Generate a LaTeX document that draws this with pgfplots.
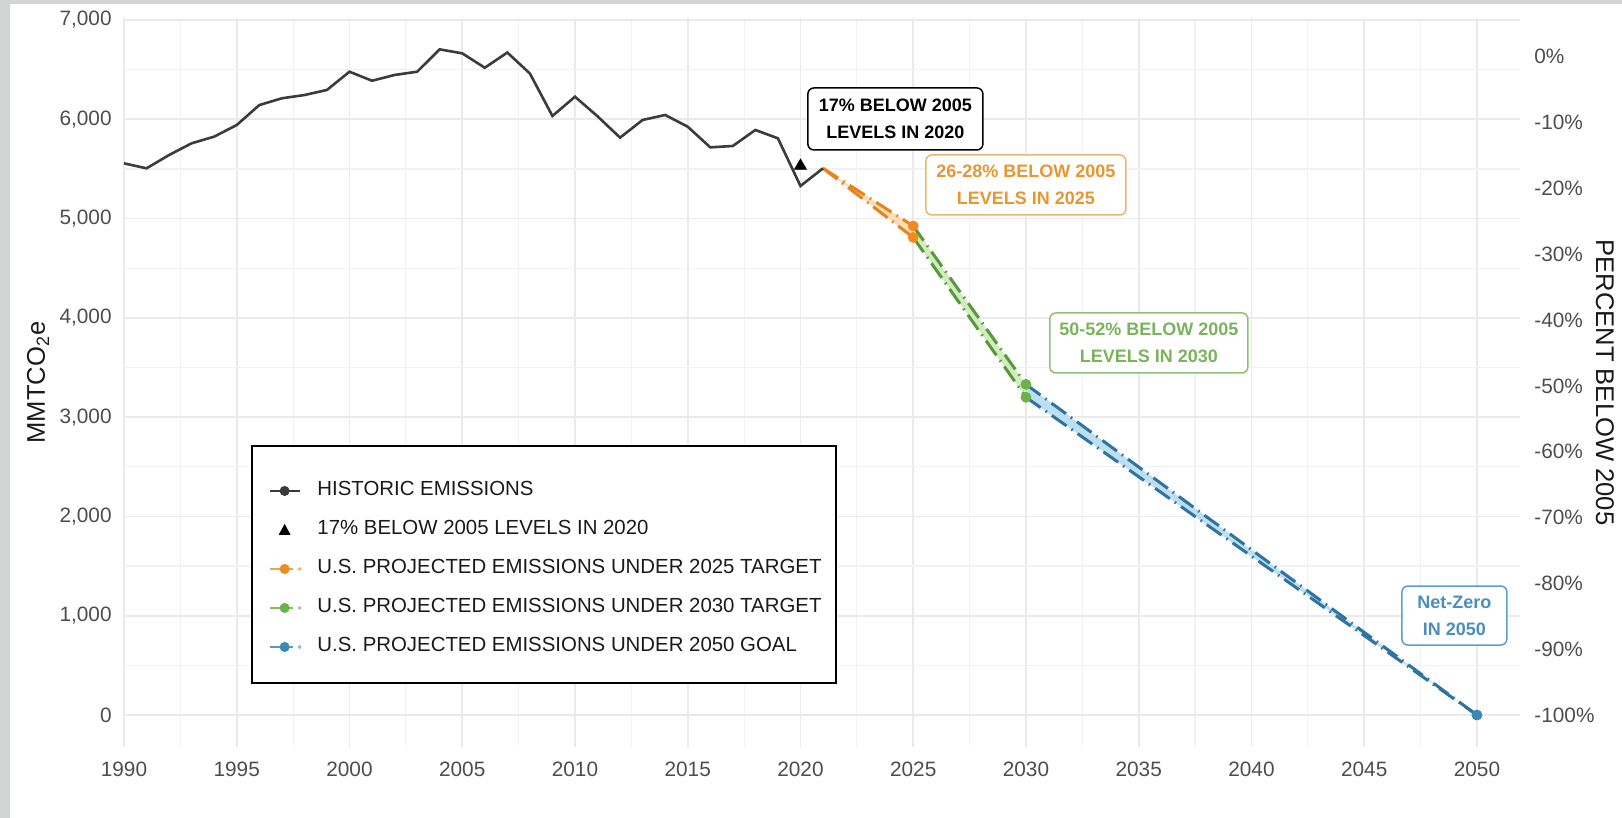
\documentclass[border=0pt]{standalone}
\usepackage{pgfplots}
\pgfplotsset{compat=1.18}
\usepackage{fontspec}
\setmainfont{Liberation Sans}

\definecolor{bgframe}{HTML}{D3D5D5}
\definecolor{gridmaj}{HTML}{EAEAEA}
\definecolor{gridmin}{HTML}{F2F2F2}
\definecolor{tickgray}{HTML}{4D4D4D}
\definecolor{titleblack}{HTML}{1A1A1A}
\definecolor{histline}{HTML}{3B3B3B}
\definecolor{orangeL}{HTML}{E8831C}
\definecolor{orangeP}{HTML}{F28A1E}
\definecolor{orangeR}{HTML}{FBDDB8}
\definecolor{orangeT}{HTML}{E8962F}
\definecolor{orangeB}{HTML}{E9B86E}
\definecolor{greenL}{HTML}{579A3A}
\definecolor{greenP}{HTML}{6BB347}
\definecolor{greenR}{HTML}{D2ECC2}
\definecolor{greenT}{HTML}{7AB45A}
\definecolor{greenB}{HTML}{8EC272}
\definecolor{blueL}{HTML}{2F74A0}
\definecolor{blueP}{HTML}{3C88B5}
\definecolor{blueR}{HTML}{BCE0F1}
\definecolor{blueT}{HTML}{4B8EBE}
\definecolor{blueB}{HTML}{5E9EC5}

% historic emissions, MMTCO2e
\pgfplotstableread{
year value
1990 5556
1991 5506
1992 5640
1993 5758
1994 5825
1995 5942
1996 6143
1997 6211
1998 6244
1999 6295
2000 6479
2001 6388
2002 6446
2003 6479
2004 6704
2005 6664
2006 6519
2007 6672
2008 6461
2009 6033
2010 6227
2011 6030
2012 5815
2013 5993
2014 6043
2015 5925
2016 5717
2017 5731
2018 5892
2019 5808
2020 5328
2021 5506
}\histdata

\tikzset{
  anbox/.style={rounded corners=3pt, line width=0.75pt, fill=white, align=center,
    inner sep=0pt, font=\bfseries\fontsize{9}{13.5}\selectfont},
}
\pgfplotsset{
  proj/.style={line width=1.5pt, dash pattern=on 9pt off 3pt on 0.8pt off 3pt},
  panel/.style={at={(62pt,35.5pt)}, anchor=south west, scale only axis,
    width=698pt, height=364.5pt, xmin=1990, xmax=2051.91, ymin=-322, ymax=7020,
    axis line style={draw=none}, major tick length=0pt, minor tick length=0pt,
    /pgf/number format/assume math mode=true,
    tick label style={font=\fontsize{10.4}{12}\selectfont, text=tickgray, inner sep=0pt}},
}

\begin{document}
\begin{tikzpicture}
\fill[bgframe] (0,0) rectangle (811pt,409pt);
\fill[white] (5pt,0) rectangle (811pt,407pt);

\begin{axis}[panel, clip=false,
  grid=both,
  major grid style={color=gridmaj, line width=0.8pt},
  minor grid style={color=gridmin, line width=0.6pt},
  xtick={1990,1995,...,2050}, minor x tick num=1,
  ytick={0,1000,...,7000}, minor y tick num=1,
  xticklabel style={anchor=north, yshift=-7.5pt, /pgf/number format/1000 sep={}},
  yticklabel style={anchor=east, xshift=-6pt},
  ylabel={MMTCO\textsubscript{2}e},
  every axis y label/.style={at={(axis description cs:-0.0616,0.5)}, anchor=center,
    rotate=90, font=\fontsize{12.8}{15}\selectfont, text=titleblack},
  legend style={at={(axis description cs:0.1031,0.2442)}, anchor=west,
    draw=none, fill=none, inner sep=0pt, row sep=9.5pt, column sep=8pt,
    font=\fontsize{10.2}{12}\selectfont, text=titleblack,
    nodes={inner sep=0pt, text height=7.5pt, text depth=2.5pt}},
  legend cell align=left,
]
% legend frame
\draw[black, line width=0.75pt, fill=white]
  (axis description cs:0.0917,0.4129) rectangle (axis description cs:0.5100,0.0878);

% ribbons
\addplot[forget plot, draw=none, fill=orangeR] coordinates {(2021,5506) (2025,4925) (2025,4810)} -- cycle;
\addplot[forget plot, draw=none, fill=greenR] coordinates {(2025,4925) (2030,3330) (2030,3200) (2025,4810)} -- cycle;
\addplot[forget plot, draw=none, fill=blueR] coordinates {(2030,3330) (2050,0) (2030,3200)} -- cycle;

% projections
\addplot[forget plot, proj, orangeL] coordinates {(2021,5506) (2025,4925)};
\addplot[forget plot, proj, orangeL] coordinates {(2021,5506) (2025,4810)};
\addplot[forget plot, proj, greenL] coordinates {(2025,4925) (2030,3330)};
\addplot[forget plot, proj, greenL] coordinates {(2025,4810) (2030,3200)};
\addplot[forget plot, proj, blueL] coordinates {(2030,3330) (2050,0)};
\addplot[forget plot, proj, blueL] coordinates {(2030,3200) (2050,0)};
\addplot[forget plot, only marks, mark=*, mark size=2.5pt, orangeP] coordinates {(2025,4925) (2025,4810)};
\addplot[forget plot, only marks, mark=*, mark size=2.5pt, greenP] coordinates {(2030,3330) (2030,3200)};
\addplot[forget plot, only marks, mark=*, mark size=2.5pt, blueP] coordinates {(2050,0)};

% historic
\addplot[forget plot, histline, line width=1.3pt, mark=none] table[x=year, y=value] {\histdata};
\addplot[forget plot, only marks, mark=triangle*, mark size=3.4pt, black] coordinates {(2020,5530)};

% annotations
\node[anbox, draw=black, text=black, minimum width=87.5pt, minimum height=31pt]
  at (axis cs:2024.21,6003) {17\% BELOW 2005\\ LEVELS IN 2020};
\node[anbox, draw=orangeB, text=orangeT, minimum width=100pt, minimum height=30pt]
  at (axis cs:2030.0,5338) {26-28\% BELOW 2005\\ LEVELS IN 2025};
\node[anbox, draw=greenB, text=greenT, minimum width=99pt, minimum height=30pt]
  at (axis cs:2035.45,3747) {50-52\% BELOW 2005\\ LEVELS IN 2030};
\node[anbox, draw=blueB, text=blueT, minimum width=52.5pt, minimum height=29.5pt]
  at (axis cs:2049.0,1002) {Net-Zero\\ IN 2050};

% legend
\addlegendimage{legend image code/.code={
  \draw[histline, line width=1.3pt] (0pt,0pt) -- (15pt,0pt);
  \fill[histline] (7.5pt,0pt) circle (2.3pt);}}
\addlegendentry{HISTORIC EMISSIONS}
\addlegendimage{legend image code/.code={
  \fill[black] (4.9pt,-2.2pt) -- (10.1pt,-2.2pt) -- (7.5pt,2.6pt) -- cycle;}}
\addlegendentry{17\% BELOW 2005 LEVELS IN 2020}
\addlegendimage{legend image code/.code={
  \draw[orangeL!75, line width=1.3pt] (0pt,0pt) -- (11.5pt,0pt);
  \fill[orangeL!60] (15pt,0pt) circle (0.7pt);
  \fill[orangeP] (7.5pt,0pt) circle (2.3pt);}}
\addlegendentry{U.S. PROJECTED EMISSIONS UNDER 2025 TARGET}
\addlegendimage{legend image code/.code={
  \draw[greenP!85, line width=1.3pt] (0pt,0pt) -- (11.5pt,0pt);
  \fill[greenP!60] (15pt,0pt) circle (0.7pt);
  \fill[greenP] (7.5pt,0pt) circle (2.3pt);}}
\addlegendentry{U.S. PROJECTED EMISSIONS UNDER 2030 TARGET}
\addlegendimage{legend image code/.code={
  \draw[blueP!85, line width=1.3pt] (0pt,0pt) -- (11.5pt,0pt);
  \fill[blueP!60] (15pt,0pt) circle (0.7pt);
  \fill[blueP] (7.5pt,0pt) circle (2.3pt);}}
\addlegendentry{U.S. PROJECTED EMISSIONS UNDER 2050 GOAL}
\end{axis}

% right-hand percent axis
\begin{axis}[panel,
  hide x axis,
  yticklabel pos=right,
  ytick={0,663,1326,1989,2652,3315,3978,4641,5304,5967,6630},
  yticklabels={-100\%,-90\%,-80\%,-70\%,-60\%,-50\%,-40\%,-30\%,-20\%,-10\%,0\%},
  yticklabel style={anchor=west, xshift=7pt},
  ylabel={PERCENT BELOW 2005},
  every axis y label/.style={at={(axis description cs:1.0609,0.5)}, anchor=center,
    rotate=-90, font=\fontsize{12.8}{15}\selectfont, text=titleblack},
]
\end{axis}

\pgfresetboundingbox
\path[use as bounding box] (0,0) rectangle (811pt,409pt);
\end{tikzpicture}
\end{document}
